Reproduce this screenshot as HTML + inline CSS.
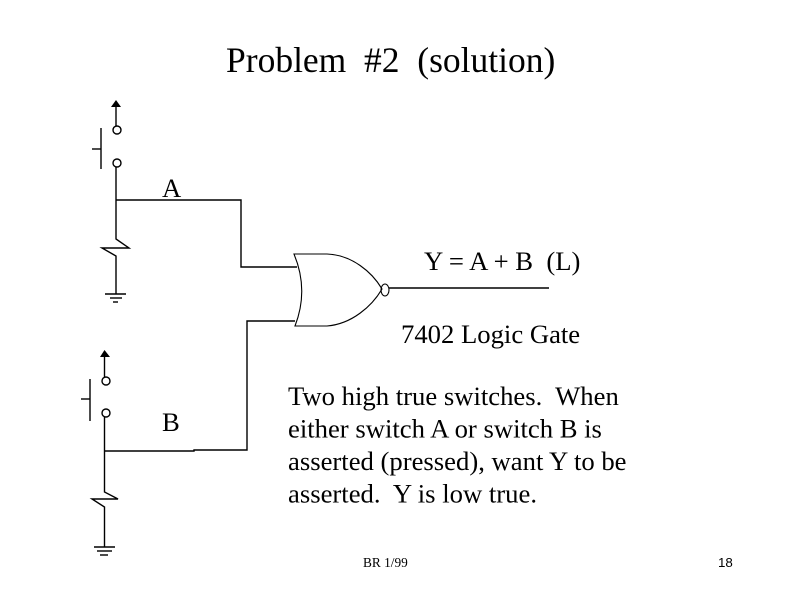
<!DOCTYPE html>
<html><head><meta charset="utf-8"><style>
html,body{margin:0;padding:0;background:#fff;}
svg{display:block;}
text{font-family:"Liberation Serif",serif;fill:#000;white-space:pre;}
</style></head><body>
<svg width="800" height="600" viewBox="0 0 800 600" xmlns="http://www.w3.org/2000/svg">
<rect width="800" height="600" fill="#fff"/>
<text x="226" y="72" font-size="35.5" xml:space="preserve">Problem  #2  (solution)</text>

<g stroke="#000" stroke-width="1.4" fill="none">
<!-- Switch A -->
<line x1="116" y1="106" x2="116" y2="126"/>
<circle cx="117" cy="130" r="4"/>
<circle cx="117" cy="163" r="4"/>
<line x1="101" y1="128" x2="101" y2="169"/>
<line x1="92" y1="149" x2="101" y2="149"/>
<polyline points="116,167 116,239 129,248 102,248 116,256 116,294"/>
<line x1="105" y1="294" x2="126" y2="294"/>
<line x1="110" y1="298" x2="122" y2="298"/>
<line x1="113" y1="302" x2="118" y2="302"/>
<polyline points="116,200 241,200 241,267 297,267"/>

<!-- Switch B -->
<line x1="104.5" y1="356" x2="104.5" y2="377"/>
<circle cx="106" cy="381" r="4"/>
<circle cx="106" cy="413" r="4"/>
<line x1="90" y1="379" x2="90" y2="421"/>
<line x1="81" y1="399" x2="90" y2="399"/>
<polyline points="104.5,417 104.5,492 118,499 92,499 104.5,507 104.5,547"/>
<line x1="94" y1="547" x2="115" y2="547"/>
<line x1="97" y1="551" x2="112" y2="551"/>
<line x1="100" y1="555" x2="108" y2="555"/>
<polyline points="104.5,451 194,451 194,450 247,450 247,321 295,321"/>

<!-- Gate -->
<path d="M294,254 L327,254 C352,255 372,272 382,289 C372,306 352,324 327,326 L295,326 Q309,290 294,254 Z" stroke-width="1.1"/>
<ellipse cx="385" cy="290" rx="4" ry="6" stroke-width="1.1"/>
<line x1="389" y1="288" x2="549" y2="288"/>
</g>
<polygon points="116,100 111,107 121,107" fill="#000"/>
<polygon points="104.5,350 100,357 110,357" fill="#000"/>

<text x="162" y="197" font-size="26.67">A</text>
<text x="162" y="431" font-size="26.67">B</text>
<text x="424" y="270" font-size="26.67" xml:space="preserve">Y = A + B  (L)</text>
<text x="401" y="343" font-size="26.67">7402 Logic Gate</text>

<text x="288" y="405" font-size="26.67" xml:space="preserve">Two high true switches.  When</text>
<text x="288" y="437.5" font-size="26.67">either switch A or switch B is</text>
<text x="288" y="470" font-size="26.67">asserted (pressed), want Y to be</text>
<text x="288" y="502.5" font-size="26.67" xml:space="preserve">asserted.  Y is low true.</text>

<text x="363" y="567" font-size="13.33">BR 1/99</text>
<text x="718" y="567" font-size="13.33" style="font-family:'Liberation Sans',sans-serif">18</text>
</svg>
</body></html>
